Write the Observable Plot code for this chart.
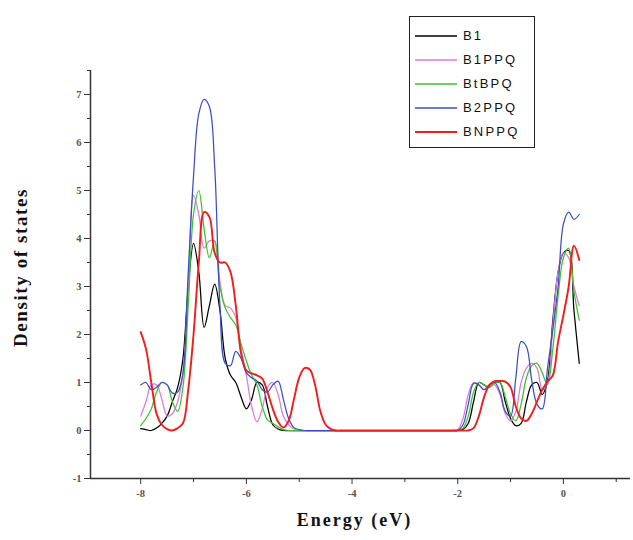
<!DOCTYPE html>
<html>
<head>
<meta charset="utf-8">
<script src="https://cdn.jsdelivr.net/npm/d3@7"></script>
<script src="https://cdn.jsdelivr.net/npm/@observablehq/plot@0.6"></script>
<style>
  html, body { margin: 0; padding: 0; background: #fff; }
  #wrap { position: relative; width: 633px; height: 540px; }
  #legend { position: absolute; left: 409px; top: 16px; width: 126px; height: 132px;
            border: 1.5px solid #222; background: #fff; box-sizing: border-box;
            font-family: "Liberation Sans", Arial, sans-serif; font-size: 13px; color: #111; }
  .row { position: absolute; left: 0; height: 16px; }
  .row svg { position: absolute; left: 5px; top: 0; }
  .row span { position: absolute; left: 53px; top: 0; line-height: 16px; letter-spacing: 2.2px; white-space: nowrap; }
</style>
</head>
<body>
<div id="wrap"><div id="legend"></div></div>
<script>
const seriesNames = ["B1", "B1PPQ", "BtBPQ", "B2PPQ", "BNPPQ"];
const seriesColors = ["#000000", "#e07ad8", "#3cc22c", "#3a4fc4", "#f21c1c"];

const energy = [
  -8.0, -7.9, -7.8, -7.7, -7.6, -7.5, -7.4, -7.3, -7.2, -7.1,
  -7.0, -6.9, -6.8, -6.7, -6.6, -6.5, -6.4, -6.3, -6.2, -6.1,
  -6.0, -5.9, -5.8, -5.7, -5.6, -5.5, -5.4, -5.3, -5.2, -5.1,
  -5.0, -4.9, -4.8, -4.7, -4.6, -4.5, -4.4, -4.3,
  -4.2, -4.1, -4.0, -3.9, -3.8, -3.7, -3.6, -3.5, -3.4, -3.3, -3.2,
  -3.1, -3.0, -2.9, -2.8, -2.7, -2.6, -2.5, -2.4, -2.3, -2.2, -2.1,
  -2.0, -1.9, -1.8, -1.7, -1.6, -1.5, -1.4, -1.3, -1.2, -1.1,
  -1.0, -0.9, -0.8, -0.7, -0.6, -0.5, -0.4, -0.3, -0.2, -0.1,
  0.0, 0.1, 0.2, 0.3
];

const B1 = [
  0.04, 0.02, 0.0, 0.05, 0.15, 0.3, 0.6, 0.9, 1.5, 3.0,
  3.9, 3.3, 2.15, 2.6, 3.05, 2.5, 1.5, 1.15, 1.0, 0.7,
  0.45, 0.65, 1.0, 0.95, 0.5, 0.12, 0.03, 0, 0, 0,
  0, 0, 0, 0, 0, 0, 0, 0,
  0, 0, 0, 0, 0, 0, 0, 0, 0, 0, 0,
  0, 0, 0, 0, 0, 0, 0, 0, 0, 0, 0,
  0, 0.02, 0.15, 0.6, 1.0, 0.95, 0.9, 1.0, 1.0, 0.6,
  0.25, 0.1, 0.15, 0.6, 0.95, 1.0, 0.75, 1.05, 2.3, 3.3,
  3.7, 3.75, 2.5, 1.4
];

const B1PPQ = [
  0.3, 0.6, 0.95, 0.95, 0.65, 0.3, 0.35, 0.6, 1.2, 3.0,
  4.9, 4.5, 3.8, 3.95, 3.95, 3.1, 2.6, 2.55, 2.35, 1.7,
  1.15, 0.5, 0.18, 0.45, 0.9, 1.0, 0.75, 0.3, 0.12, 0.03,
  0, 0, 0, 0, 0, 0, 0, 0,
  0, 0, 0, 0, 0, 0, 0, 0, 0, 0, 0,
  0, 0, 0, 0, 0, 0, 0, 0, 0, 0, 0,
  0.02, 0.25, 0.75, 1.0, 0.95, 0.85, 0.95, 0.95, 0.75, 0.35,
  0.2, 0.4, 1.0, 1.3, 1.4, 1.3, 0.85, 1.0, 2.2, 3.3,
  3.7, 3.6, 3.0, 2.6
];

const BtBPQ = [
  0.1, 0.25, 0.45, 0.8, 1.0, 0.95, 0.6, 0.4, 0.9, 2.6,
  4.5, 5.0, 4.2, 3.6, 3.95, 3.0, 2.55, 2.35, 2.2, 1.8,
  1.45, 1.15, 0.95, 0.5, 0.22, 0.15, 0.08, 0.02, 0, 0,
  0, 0, 0, 0, 0, 0, 0, 0,
  0, 0, 0, 0, 0, 0, 0, 0, 0, 0, 0,
  0, 0, 0, 0, 0, 0, 0, 0, 0, 0, 0,
  0, 0.05, 0.3, 0.8, 1.0, 0.95, 0.9, 1.0, 1.0, 0.7,
  0.35, 0.2, 0.55, 1.1, 1.35, 1.4, 1.2, 0.95, 1.7, 2.8,
  3.6, 3.8, 2.9, 2.3
];

const B2PPQ = [
  0.95, 1.0, 0.85, 0.9, 1.0, 0.95, 0.78, 0.8, 1.2, 3.3,
  5.3, 6.6, 6.9, 6.75, 5.5, 2.6, 1.4, 1.35, 1.65, 1.5,
  1.2, 1.1, 1.03, 0.85, 0.8, 0.95, 1.03, 0.65, 0.25, 0.06,
  0.02, 0, 0, 0, 0, 0, 0, 0,
  0, 0, 0, 0, 0, 0, 0, 0, 0, 0, 0,
  0, 0, 0, 0, 0, 0, 0, 0, 0, 0, 0,
  0, 0.12, 0.55, 0.98, 0.95, 0.85, 0.95, 1.0, 0.8, 0.4,
  0.3, 1.1, 1.85, 1.75, 1.05, 0.55, 0.45, 1.3, 2.1, 3.0,
  4.3, 4.55, 4.4, 4.5
];

const BNPPQ = [
  2.05, 1.7, 1.0, 0.35, 0.12, 0.03, 0.0, 0.05, 0.15, 0.85,
  2.0, 3.5, 4.55, 4.45, 3.7, 3.5, 3.5, 3.3, 2.6, 1.6,
  1.25, 1.19, 1.15, 1.08, 0.8, 0.45, 0.18, 0.06, 0.2, 0.65,
  1.1, 1.3, 1.27, 0.95, 0.4, 0.12, 0.03, 0,
  0, 0, 0, 0, 0, 0, 0, 0, 0, 0, 0,
  0, 0, 0, 0, 0, 0, 0, 0, 0, 0, 0,
  0, 0, 0, 0.05, 0.3, 0.7, 0.95, 1.03, 1.03, 1.02,
  0.9, 0.5, 0.25, 0.2, 0.35, 0.6, 0.85, 1.02, 1.15, 1.85,
  2.4, 3.0, 3.85, 3.55
];

const yMajor = [-1, 0, 1, 2, 3, 4, 5, 6, 7];
const yMinor = [-0.5, 0.5, 1.5, 2.5, 3.5, 4.5, 5.5, 6.5, 7.5];
const xMajor = [-8, -6, -4, -2, 0];
const xMinor = [-7, -5, -3, -1, 1];
const yTitle = "Density of states";
const xTitle = "Energy (eV)";

const valuesBySeries = [B1, B1PPQ, BtBPQ, B2PPQ, BNPPQ];
const rows = [];
seriesNames.forEach((name, k) => {
  energy.forEach((e, i) => rows.push({series: name, energy: e, dos: valuesBySeries[k][i]}));
});

const axisColor = "#333";
const labelColor = "#555";

const lineMarks = seriesNames.map((name, k) =>
  Plot.line(rows.filter(d => d.series === name), {
    x: "energy", y: "dos", stroke: seriesColors[k],
    strokeWidth: name === "BNPPQ" ? 1.9 : 1.25, curve: "catmull-rom"
  })
);

const chart = Plot.plot({
  width: 633,
  height: 540,
  marginLeft: 90,
  marginRight: 3,
  marginTop: 70,
  marginBottom: 62,
  style: {background: "#fff", fontFamily: "'Liberation Serif', 'Times New Roman', serif", fontSize: "10px", overflow: "visible"},
  x: {domain: [-8.95, 1.27]},
  y: {domain: [-1, 7.5]},
  marks: [
    ...lineMarks,
    Plot.axisX({ticks: xMajor, tickSize: 6, tickPadding: 5, tickFormat: d => String(d), stroke: axisColor, fill: labelColor, fontSize: 10.5, fontWeight: "bold", label: null}),
    Plot.axisX({ticks: xMinor, tickSize: 4, text: null, stroke: axisColor, label: null}),
    Plot.axisY({ticks: yMajor, tickSize: 6, tickPadding: 3, tickFormat: d => String(d), stroke: axisColor, fill: labelColor, fontSize: 10.5, fontWeight: "bold", label: null}),
    Plot.axisY({ticks: yMinor, tickSize: 3, text: null, stroke: axisColor, label: null}),
    Plot.ruleY([-1], {stroke: axisColor, strokeWidth: 1.5}),
    Plot.ruleX([-8.95], {stroke: axisColor, strokeWidth: 1.5}),
    Plot.text([yTitle], {frameAnchor: "left", textAnchor: "middle", dx: -70, dy: -7, rotate: -90, fontWeight: "bold", fontSize: 19, fill: "#111"}),
    Plot.text([xTitle], {frameAnchor: "bottom", textAnchor: "middle", dx: -6, dy: 47, fontWeight: "bold", fontSize: 18, fill: "#111"})
  ]
});

d3.select(chart).selectAll("text")
  .filter(function() { return this.textContent === yTitle; })
  .style("letter-spacing", "1.6px");
d3.select(chart).selectAll("text")
  .filter(function() { return this.textContent === xTitle; })
  .style("letter-spacing", "2px");

document.getElementById("wrap").prepend(chart);

const legend = document.getElementById("legend");
seriesNames.forEach((name, k) => {
  const row = document.createElement("div");
  row.className = "row";
  row.style.top = (11 + k * 24) + "px";
  row.style.width = "120px";
  row.innerHTML = `<svg width="44" height="16"><line x1="0" x2="42" y1="8" y2="8" stroke="${seriesColors[k]}" stroke-width="${name === "BNPPQ" ? 2.2 : 1.6}"/></svg><span>${name}</span>`;
  legend.appendChild(row);
});
</script>
</body>
</html>
